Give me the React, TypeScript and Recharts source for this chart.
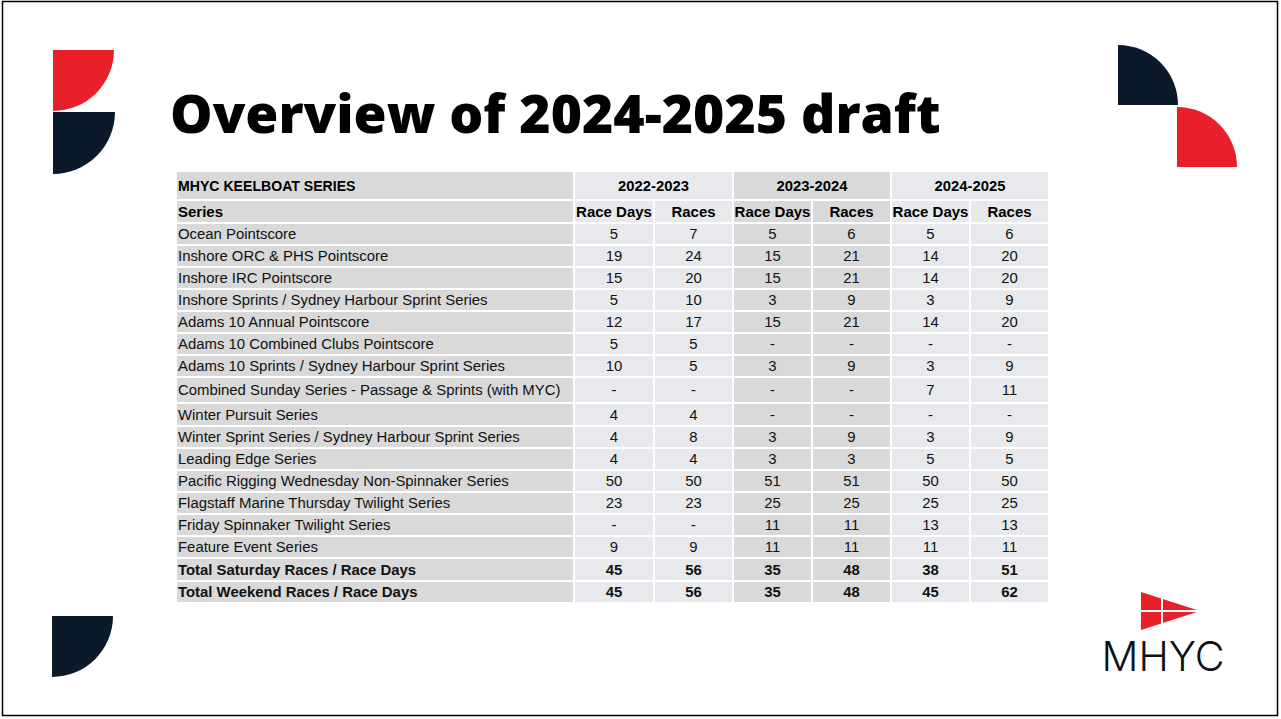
import React from "react";
import { Surface, Sector, Polygon, Rectangle } from "recharts";

const seasons = ["2022-2023", "2023-2024", "2024-2025"];
const subCols = ["Race Days", "Races"];

const series = [
  "Ocean Pointscore",
  "Inshore ORC & PHS Pointscore",
  "Inshore IRC Pointscore",
  "Inshore Sprints / Sydney Harbour Sprint Series",
  "Adams 10 Annual Pointscore",
  "Adams 10 Combined Clubs Pointscore",
  "Adams 10 Sprints / Sydney Harbour Sprint Series",
  "Combined Sunday Series - Passage & Sprints (with MYC)",
  "Winter Pursuit Series",
  "Winter Sprint Series / Sydney Harbour Sprint Series",
  "Leading Edge Series",
  "Pacific Rigging Wednesday Non-Spinnaker Series",
  "Flagstaff Marine Thursday Twilight Series",
  "Friday Spinnaker Twilight Series",
  "Feature Event Series",
  "Total Saturday Races / Race Days",
  "Total Weekend Races / Race Days",
];

const raceDays2223 = [5, 19, 15, 5, 12, 5, 10, null, 4, 4, 4, 50, 23, null, 9, 45, 45];
const races2223 = [7, 24, 20, 10, 17, 5, 5, null, 4, 8, 4, 50, 23, null, 9, 56, 56];
const raceDays2324 = [5, 15, 15, 3, 15, null, 3, null, null, 3, 3, 51, 25, 11, 11, 35, 35];
const races2324 = [6, 21, 21, 9, 21, null, 9, null, null, 9, 3, 51, 25, 11, 11, 48, 48];
const raceDays2425 = [5, 14, 14, 3, 14, null, 3, 7, null, 3, 5, 50, 25, 13, 11, 38, 45];
const races2425 = [6, 20, 20, 9, 20, null, 9, 11, null, 9, 5, 50, 25, 13, 11, 51, 62];

const boldRows = [15, 16];

const columns = [raceDays2223, races2223, raceDays2324, races2324, raceDays2425, races2425];

// layout
const colX = [176, 574, 654, 733, 812, 891, 970, 1049];
const rowY = [171, 200, 223, 245, 267, 289, 311, 333, 355, 377, 403, 426, 448, 470, 492, 514, 536, 558, 581, 603];

const NAVY = "#0b1a2b";
const RED = "#e8202a";
const DARK = "#d9d9d9";
const LIGHT = "#e8e9ec";
const FONT = "'Liberation Sans', Arial, sans-serif";
const BODY = 14.9;

const colBg = (c: number) => (c === 0 ? DARK : c <= 2 ? LIGHT : c <= 4 ? DARK : LIGHT);

function Cell({ x0, x1, y0, y1, fill }: { x0: number; x1: number; y0: number; y1: number; fill: string }) {
  return <Rectangle x={x0 + 1} y={y0 + 1} width={x1 - x0 - 2} height={y1 - y0 - 2} fill={fill} />;
}

function Table() {
  const items: React.ReactNode[] = [];
  // header row 1
  items.push(<Cell key="h0" x0={colX[0]} x1={colX[1]} y0={rowY[0]} y1={rowY[1]} fill={DARK} />);
  items.push(
    <text key="h0t" x={colX[0] + 2} y={(rowY[0] + rowY[1]) / 2 + 5} fontSize={14.1} fontWeight={700} fontFamily={FONT} fill="#000">
      MHYC KEELBOAT SERIES
    </text>
  );
  seasons.forEach((s, i) => {
    const x0 = colX[1 + i * 2];
    const x1 = colX[3 + i * 2];
    items.push(<Cell key={"s" + i} x0={x0} x1={x1} y0={rowY[0]} y1={rowY[1]} fill={colBg(1 + i * 2)} />);
    items.push(
      <text key={"st" + i} x={(x0 + x1) / 2} y={(rowY[0] + rowY[1]) / 2 + 5} textAnchor="middle" fontSize={14.8} fontWeight={700} fontFamily={FONT} fill="#000">
        {s}
      </text>
    );
  });
  // header row 2
  items.push(<Cell key="h1" x0={colX[0]} x1={colX[1]} y0={rowY[1]} y1={rowY[2]} fill={DARK} />);
  items.push(
    <text key="h1t" x={colX[0] + 2} y={(rowY[1] + rowY[2]) / 2 + 5} fontSize={15} fontWeight={700} fontFamily={FONT} fill="#000">
      Series
    </text>
  );
  for (let c = 1; c <= 6; c++) {
    items.push(<Cell key={"sc" + c} x0={colX[c]} x1={colX[c + 1]} y0={rowY[1]} y1={rowY[2]} fill={colBg(c)} />);
    items.push(
      <text key={"sct" + c} x={(colX[c] + colX[c + 1]) / 2} y={(rowY[1] + rowY[2]) / 2 + 5} textAnchor="middle" fontSize={15} fontWeight={700} fontFamily={FONT} fill="#000">
        {subCols[(c - 1) % 2]}
      </text>
    );
  }
  // body
  series.forEach((name, r) => {
    const y0 = rowY[r + 2];
    const y1 = rowY[r + 3];
    const cy = (y0 + y1) / 2 + 5;
    const bold = boldRows.includes(r) ? 700 : 400;
    items.push(<Cell key={"n" + r} x0={colX[0]} x1={colX[1]} y0={y0} y1={y1} fill={DARK} />);
    items.push(
      <text key={"nt" + r} x={colX[0] + 2} y={cy} fontSize={BODY} fontWeight={bold} fontFamily={FONT} fill="#111">
        {name}
      </text>
    );
    columns.forEach((vals, c) => {
      const v = vals[r];
      items.push(<Cell key={"v" + r + "-" + c} x0={colX[c + 1]} x1={colX[c + 2]} y0={y0} y1={y1} fill={colBg(c + 1)} />);
      items.push(
        <text key={"vt" + r + "-" + c} x={(colX[c + 1] + colX[c + 2]) / 2} y={cy} textAnchor="middle" fontSize={BODY} fontWeight={bold} fontFamily={FONT} fill="#111">
          {v === null ? "-" : v}
        </text>
      );
    });
  });
  return <g>{items}</g>;
}

export default function App() {
  return (
    <div style={{ position: "absolute", left: 0, top: 0, width: 1281, height: 719, background: "#fff" }}>
      <Surface width={1281} height={719}>
        <rect x={2.5} y={1.5} width={1275} height={714} fill="none" stroke="#000" strokeWidth={1.5} />
        {/* corner shapes */}
        <Sector cx={53} cy={50} innerRadius={0} outerRadius={61} startAngle={0} endAngle={-90} fill={RED} />
        <Sector cx={53} cy={112} innerRadius={0} outerRadius={62} startAngle={0} endAngle={-90} fill={NAVY} />
        <Sector cx={1118} cy={105} innerRadius={0} outerRadius={60} startAngle={0} endAngle={90} fill={NAVY} />
        <Sector cx={1177} cy={167} innerRadius={0} outerRadius={60} startAngle={0} endAngle={90} fill={RED} />
        <Sector cx={52} cy={616} innerRadius={0} outerRadius={61} startAngle={0} endAngle={-90} fill={NAVY} />
        {/* title */}
        <text x={170} y={133} fontSize={53.5} fontWeight={800} fontFamily="'Open Sans', sans-serif" fill="#000">
          Overview of 2024-2025 draft
        </text>
        <Table />
        {/* MHYC logo */}
        <Polygon
          points={[
            { x: 1141, y: 592 },
            { x: 1200, y: 611 },
            { x: 1141, y: 630 },
          ]}
          fill={RED}
        />
        <line x1={1162} y1={590} x2={1162} y2={632} stroke="#fff" strokeWidth={2} />
        <line x1={1139} y1={611} x2={1200} y2={611} stroke="#fff" strokeWidth={2} />
        <text x={1163} y={671} textAnchor="middle" fontSize={41} fontWeight={300} fontFamily="Inter, sans-serif" fill="#111">
          MHYC
        </text>
      </Surface>
    </div>
  );
}
